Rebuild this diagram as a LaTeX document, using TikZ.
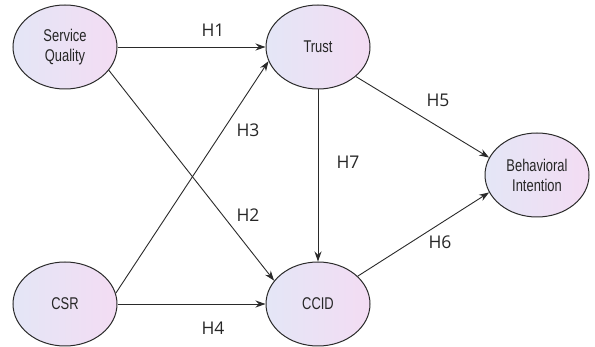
\documentclass[tikz,border=0pt]{standalone}
\usepackage{fontspec}
\setmainfont{Liberation Sans}
\newfontfamily\narrowfont[FakeStretch=0.76]{Liberation Sans}
\newfontfamily\labfont{Open Sans}
\usetikzlibrary{shapes.geometric,arrows.meta}
\definecolor{edgecol}{HTML}{2A2A2A}
\definecolor{fillL}{HTML}{E4E6F6}
\definecolor{fillR}{HTML}{F3DCF3}
\tikzset{
  construct/.style={ellipse, draw=edgecol, line width=1pt, left color=fillL, right color=fillR,
    minimum width=104pt, minimum height=84pt, inner sep=0pt, align=center,
    font=\narrowfont\fontsize{17}{20}\selectfont, text=black!85},
  path/.style={draw=edgecol, line width=0.9pt, -{Stealth[length=10pt,width=7pt]}},
  hyp/.style={font=\labfont\fontsize{17.5}{20}\selectfont, text=black!85}
}
\begin{document}
\begin{tikzpicture}[x=1pt,y=-1pt]
\useasboundingbox (0,0) rectangle (595,347);
\node[construct] (sq) at (65,47) {Service\\Quality};
\node[construct] (tr) at (318,47) {Trust};
\node[construct] (bi) at (537,175) {Behavioral\\Intention};
\node[construct] (csr) at (65,304) {CSR};
\node[construct] (cc) at (318,304) {CCID};
\draw[path] (sq) -- (tr);
\draw[path] (sq.-28) -- (cc.152);
\draw[path] (csr.12) -- (tr.196);
\draw[path] (csr) -- (cc);
\draw[path] (tr.-38) -- (bi.160);
\draw[path] (cc.35) -- (bi.200);
\draw[path] (tr) -- (cc);
\node[hyp] (h1) at (213,30) {H1};
\node[hyp] (h2) at (248,215) {H2};
\node[hyp] (h3) at (248,130) {H3};
\node[hyp] (h4) at (213,328) {H4};
\node[hyp] (h5) at (438,100) {H5};
\node[hyp] (h6) at (440,242) {H6};
\node[hyp] (h7) at (348,162) {H7};
\end{tikzpicture}
\end{document}
